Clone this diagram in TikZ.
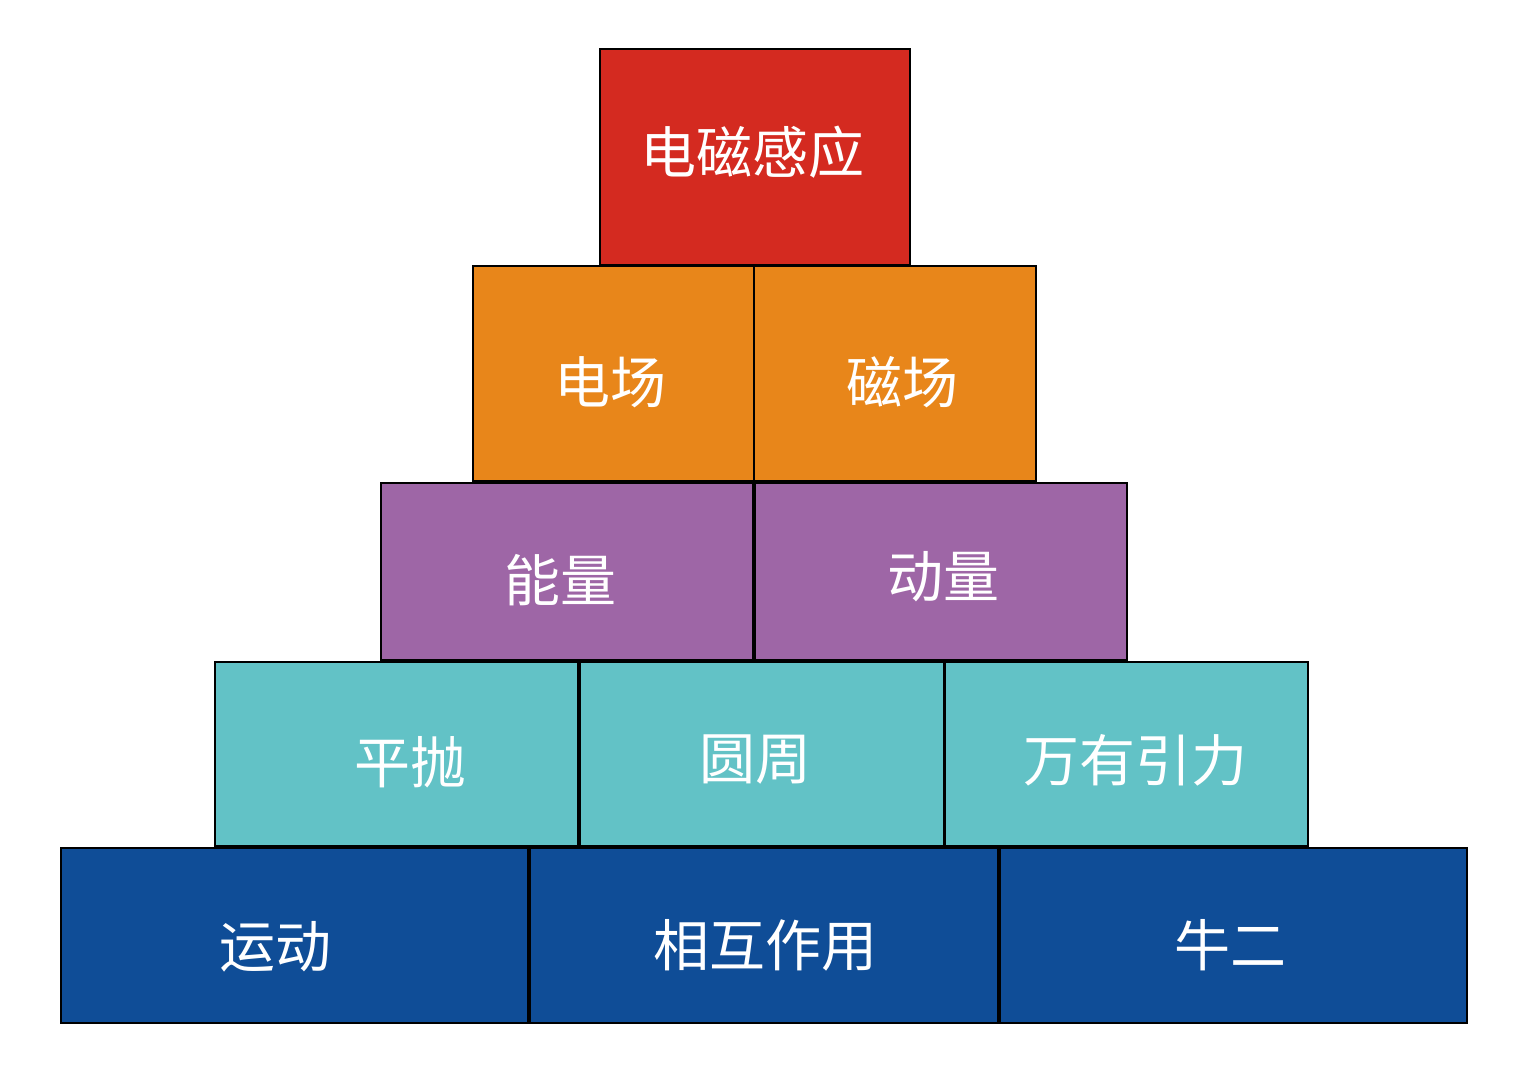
\documentclass[tikz,border=0pt]{standalone}
\usepackage{fontspec}
\setmainfont{Noto Sans CJK SC}
\definecolor{cred}{HTML}{D42A20}
\definecolor{corange}{HTML}{E8861A}
\definecolor{cpurple}{HTML}{9E66A6}
\definecolor{cteal}{HTML}{62C2C6}
\definecolor{cblue}{HTML}{0F4D97}
\begin{document}
\begin{tikzpicture}[x=1pt,y=-1pt,
  blk/.style={draw=black,line width=1.5pt},
  lbl/.style={text=white,font=\fontsize{56}{60}\selectfont,inner sep=0pt}]
\useasboundingbox (0,0) rectangle (1528,1080);
\fill[white] (0,0) rectangle (1528,1080);
% red
\draw[blk,fill=cred] (600,49) rectangle (910,265);
\node[lbl] (a) at (752,152) {电磁感应};
% orange
\draw[blk,fill=corange] (473,266) rectangle (754,481);
\draw[blk,fill=corange] (754,266) rectangle (1036,481);
\node[lbl] (b1) at (610,382) {电场};
\node[lbl] (b2) at (902,382) {磁场};
% purple
\draw[blk,fill=cpurple] (381,483) rectangle (753,660);
\draw[blk,fill=cpurple] (755,483) rectangle (1127,660);
\node[lbl] (c1) at (560,580) {能量};
\node[lbl] (c2) at (943,577) {动量};
% teal
\draw[blk,fill=cteal] (215,662) rectangle (578,846);
\draw[blk,fill=cteal] (580,662) rectangle (944,846);
\draw[blk,fill=cteal] (945,662) rectangle (1308,846);
\node[lbl] (d1) at (410,762) {平抛};
\node[lbl] (d2) at (755,760) {圆周};
\node[lbl] (d3) at (1135,760) {万有引力};
% blue
\draw[blk,fill=cblue] (61,848) rectangle (528,1023);
\draw[blk,fill=cblue] (530,848) rectangle (998,1023);
\draw[blk,fill=cblue] (1000,848) rectangle (1467,1023);
\node[lbl] (e1) at (275,947) {运动};
\node[lbl] (e2) at (765,945) {相互作用};
\node[lbl] (e3) at (1230,945) {牛二};
\end{tikzpicture}
\end{document}
